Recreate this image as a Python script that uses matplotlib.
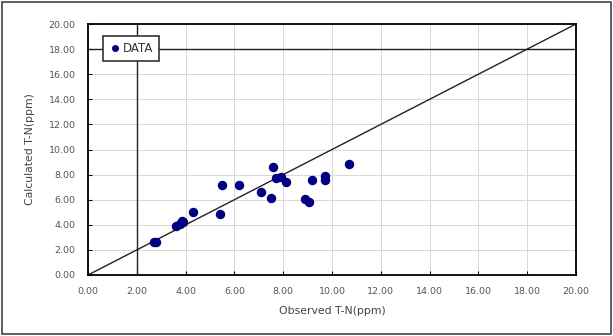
import matplotlib
matplotlib.use("Agg")
import matplotlib.pyplot as plt
from matplotlib.patches import Rectangle

observed = [2.7, 2.8, 3.6, 3.75, 3.85, 3.9, 4.3, 5.4, 5.5, 6.2, 7.1, 7.5, 7.6, 7.7, 7.9, 8.1, 8.9, 9.05, 9.2, 9.7, 9.7, 10.7]
calculated = [2.6, 2.6, 3.9, 4.1, 4.3, 4.2, 5.05, 4.9, 7.2, 7.2, 6.6, 6.15, 8.6, 7.7, 7.8, 7.4, 6.05, 5.8, 7.6, 7.85, 7.6, 8.85]
ticks = [0, 2, 4, 6, 8, 10, 12, 14, 16, 18, 20]
tick_labels = ["%.2f" % t for t in ticks]

plt.rcParams['font.family'] = ['DejaVu Sans']
fig = plt.figure(figsize=(6.13, 3.36), dpi=100)
ax = fig.add_axes([88/613, 1-275/336, (576-88)/613, (275-24)/336])

fig.patches.append(Rectangle((0.003, 0.005), 0.994, 0.99, transform=fig.transFigure,
                             fill=False, edgecolor='#444444', linewidth=1.2))

ax.set_xlim(0, 20)
ax.set_ylim(0, 20)
ax.set_xticks(ticks)
ax.set_yticks(ticks)
ax.set_xticklabels(tick_labels, fontsize=6.8, color='#555555')
ax.set_yticklabels(tick_labels, fontsize=6.8, color='#555555')
ax.tick_params(direction='in', length=3, width=0.8, pad=9)
ax.grid(True, color='#d8d8d8', linewidth=0.7)
ax.set_axisbelow(True)
for s in ax.spines.values():
    s.set_linewidth(1.3)
    s.set_color('black')

ax.axvline(2, color='#222222', linewidth=1.0, zorder=2)
ax.axhline(18, color='#222222', linewidth=1.0, zorder=2)
ax.plot([0, 20], [0, 20], color='#222222', linewidth=1.0, zorder=2)

ax.plot(observed, calculated, linestyle='none', marker='o', markersize=5.8,
        color='#000080', label='DATA', zorder=3)

leg = ax.legend(loc='upper left', bbox_to_anchor=(0.031, 0.952), fontsize=8.5,
                frameon=True, fancybox=False, handletextpad=0.15, handlelength=1.0,
                borderpad=0.5, borderaxespad=0, markerscale=0.7)
leg.get_frame().set_edgecolor('#333333')
leg.get_frame().set_linewidth(1.2)
leg.get_frame().set_alpha(1)
for t in leg.get_texts():
    t.set_color('#333333')

ax.set_xlabel('Observed T-N(ppm)', fontsize=7.8, color='#444444', labelpad=7)
ax.set_ylabel('Calculated T-N(ppm)', fontsize=7.8, color='#444444', labelpad=10)

fig.savefig('out.png', dpi=100)
